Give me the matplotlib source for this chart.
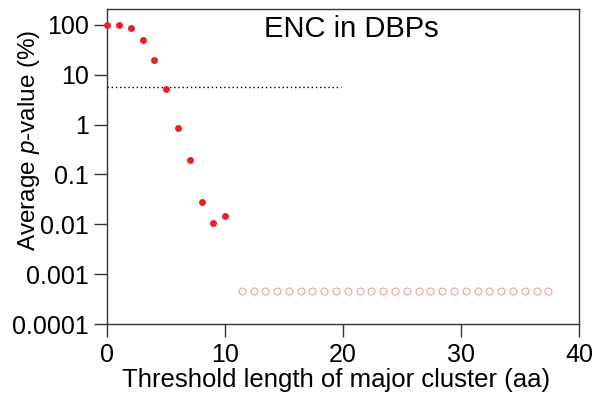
import matplotlib
matplotlib.use("Agg")
import matplotlib.pyplot as plt

plt.rcParams['font.family'] = ['Liberation Sans', 'DejaVu Sans']
plt.rcParams['mathtext.fontset'] = 'custom'
plt.rcParams['mathtext.rm'] = 'Liberation Sans'
plt.rcParams['mathtext.it'] = 'Liberation Sans:italic'

# Data
thr_x = [0, 1, 2, 3, 4, 5, 6, 7, 8, 9, 10]
pval = [100, 98, 87, 51, 20, 5.1, 0.86, 0.193, 0.028, 0.0107, 0.0145]
zero_x = [11.4, 12.4, 13.4, 14.4, 15.4, 16.4, 17.4, 18.4, 19.4, 20.4, 21.4,
          22.4, 23.4, 24.4, 25.4, 26.4, 27.4, 28.4, 29.4, 30.4, 31.4, 32.4,
          33.4, 34.4, 35.4, 36.4, 37.4]
zero_y = [4.7e-4] * len(zero_x)
thresh_x = [0, 19.8]
thresh_y = [5.7, 5.7]
yticks = [100, 10, 1, 0.1, 0.01, 0.001, 0.0001]
yticklabels = ['100', '10', '1', '0.1', '0.01', '0.001', '0.0001']
xticks = [0, 10, 20, 30, 40]

fig = plt.figure(figsize=(5.95, 4.04), dpi=100)
ax = fig.add_axes([107.3/595, 1-324/404, (579-107.3)/595, (324-9)/404])

ax.plot(thresh_x, thresh_y, linestyle=(0, (1, 2)), color='black', linewidth=1.0)
ax.plot(thr_x, pval, 'o', color='#e5202a', markersize=5.0, markeredgewidth=0, clip_on=False, zorder=3)
ax.plot(zero_x, zero_y, 'o', markerfacecolor='none', markeredgecolor='#e8a5a8',
        markersize=5.0, markeredgewidth=0.8)

ax.set_yscale('log')
ax.set_ylim(1e-4, 209)
ax.set_xlim(0, 40)
ax.set_yticks(yticks)
ax.set_yticklabels(yticklabels)
ax.minorticks_off()
ax.set_xticks(xticks)
ax.tick_params(direction='out', length=9.5, width=1, labelsize=18, colors='#333333',
               labelcolor='black')
ax.tick_params(axis='y', pad=3.5)
ax.tick_params(axis='x', pad=4)
for s in ax.spines.values():
    s.set_color('#333333')
    s.set_linewidth(1)

ax.set_xlabel('Threshold length of major cluster (aa)', fontsize=18.5)
ax.xaxis.set_label_coords(0.486, -0.14)
ax.set_ylabel('Average $\\mathit{p}$-value (%)', fontsize=17.5)
ax.yaxis.set_label_coords(-0.138, 0.584)
ax.text(0.517, 0.912, 'ENC in DBPs', transform=ax.transAxes, ha='center', va='baseline', fontsize=21)

fig.savefig('out.png', dpi=100)
